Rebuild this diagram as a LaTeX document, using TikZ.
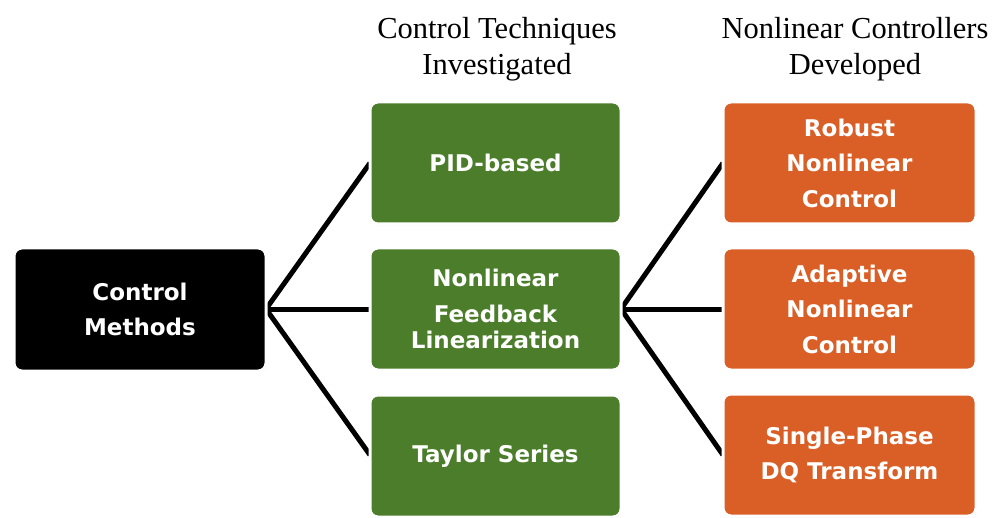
\documentclass[tikz,border=0pt]{standalone}
\usepackage{fontspec}
\setmainfont{Liberation Serif}
\newfontfamily\boxfont{DejaVu Sans}
\usetikzlibrary{shadows}
\definecolor{gbox}{HTML}{4B7D2B}
\definecolor{obox}{HTML}{DA5F27}
\tikzset{
  base/.style={rectangle, rounded corners=8pt, draw=white, line width=3pt,
    text=white, align=center, font=\boxfont\bfseries\fontsize{23}{35.5}\selectfont,
    drop shadow={shadow xshift=0.8pt, shadow yshift=-1.2pt, opacity=0.3, fill=black!50},
    inner sep=0pt},
  blackbox/.style={base, fill=black, minimum width=252pt, minimum height=123pt},
  greenbox/.style={base, fill=gbox, minimum width=251pt, minimum height=122pt},
  orangebox/.style={base, fill=obox, minimum width=253pt, minimum height=122pt},
  conn/.style={line width=5pt, black},
  heading/.style={align=center, font=\fontsize{30.5}{36}\selectfont, inner sep=0pt}
}
\begin{document}
\begin{tikzpicture}[x=1pt, y=-1pt]
\useasboundingbox (0,0) rectangle (992,518);
% connectors first (behind boxes)
\coordinate (cmE) at (266,309);
\coordinate (flE) at (621,309);
\coordinate (pidW) at (370,163);
\coordinate (flW) at (370,309);
\coordinate (tsW) at (370,455);
\coordinate (rncW) at (723,163);
\coordinate (ancW) at (723,309);
\coordinate (dqW) at (723,455);
\draw[conn] (cmE) -- (pidW);
\draw[conn] (cmE) -- (flW);
\draw[conn] (cmE) -- (tsW);
\draw[conn] (flE) -- (rncW);
\draw[conn] (flE) -- (ancW);
\draw[conn] (flE) -- (dqW);
% boxes
\node[blackbox] (cm) at (140,309.5) {Control\\Methods};
\node[greenbox] (pid) at (495.5,163) {PID-based};
\node[greenbox] (fl) at (495.5,309) {Nonlinear\\Feedback\\[-9pt]Linearization};
\node[greenbox] (ts) at (495.5,456) {Taylor Series};
\node[orangebox] (rnc) at (849.5,163) {Robust\\Nonlinear\\Control};
\node[orangebox] (anc) at (849.5,309) {Adaptive\\Nonlinear\\Control};
\node[orangebox] (dq) at (849.5,455) {Single-Phase\\DQ Transform};
% headings
\node[heading] (h1) at (497,49) {Control Techniques\\Investigated};
\node[heading] (h2) at (855,49) {Nonlinear Controllers\\Developed};
\end{tikzpicture}
\end{document}
